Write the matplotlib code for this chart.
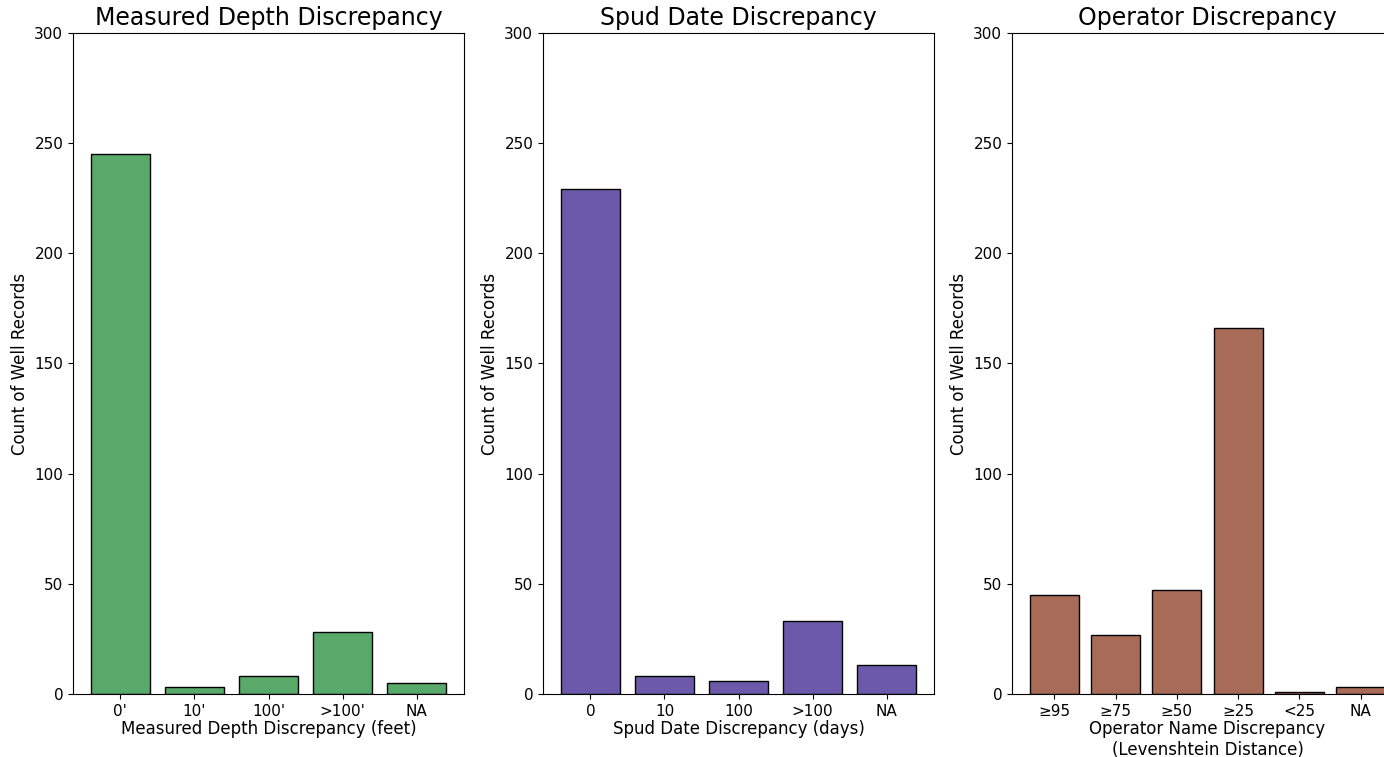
import numpy as np
import matplotlib
matplotlib.use("Agg")
import matplotlib.pyplot as plt

# bar data
depth_labels = ["0'", "10'", "100'", ">100'", "NA"]
depth_counts = [245, 3, 8, 28, 5]

spud_labels = ["0", "10", "100", ">100", "NA"]
spud_counts = [229, 8, 6, 33, 13]

oper_labels = ["\u226595", "\u226575", "\u226550", "\u226525", "<25", "NA"]
oper_counts = [45, 27, 47, 166, 1, 3]

W, H = 1384, 757
fig = plt.figure(figsize=(W / 100, H / 100), dpi=100)


def panel(left, labels, counts, color, title, xlabel):
    # axes placed in pixel terms, third one runs off the right edge
    ax = fig.add_axes([left / W, (H - 694) / H, 391 / W, 661 / H])
    xs = np.arange(len(labels))
    ax.bar(xs, counts, width=0.8, color=color, edgecolor="black", linewidth=1)
    ax.set_xticks(xs)
    ax.set_xticklabels(labels, fontsize=11)
    ax.set_ylim(0, 300)
    ax.set_yticks(range(0, 301, 50))
    ax.tick_params(axis="y", labelsize=11)
    ax.set_title(title, fontsize=17)
    ax.set_xlabel(xlabel, fontsize=12, labelpad=1)
    ax.set_ylabel("Count of Well Records", fontsize=12)
    return ax


panel(73, depth_labels, depth_counts, "#59AA6A",
      "Measured Depth Discrepancy", "Measured Depth Discrepancy (feet)")
panel(543, spud_labels, spud_counts, "#6C59A9",
      "Spud Date Discrepancy", "Spud Date Discrepancy (days)")
panel(1012, oper_labels, oper_counts, "#A86B58",
      "Operator Discrepancy",
      "Operator Name Discrepancy\n(Levenshtein Distance)")

fig.savefig("out.png", dpi=100)
